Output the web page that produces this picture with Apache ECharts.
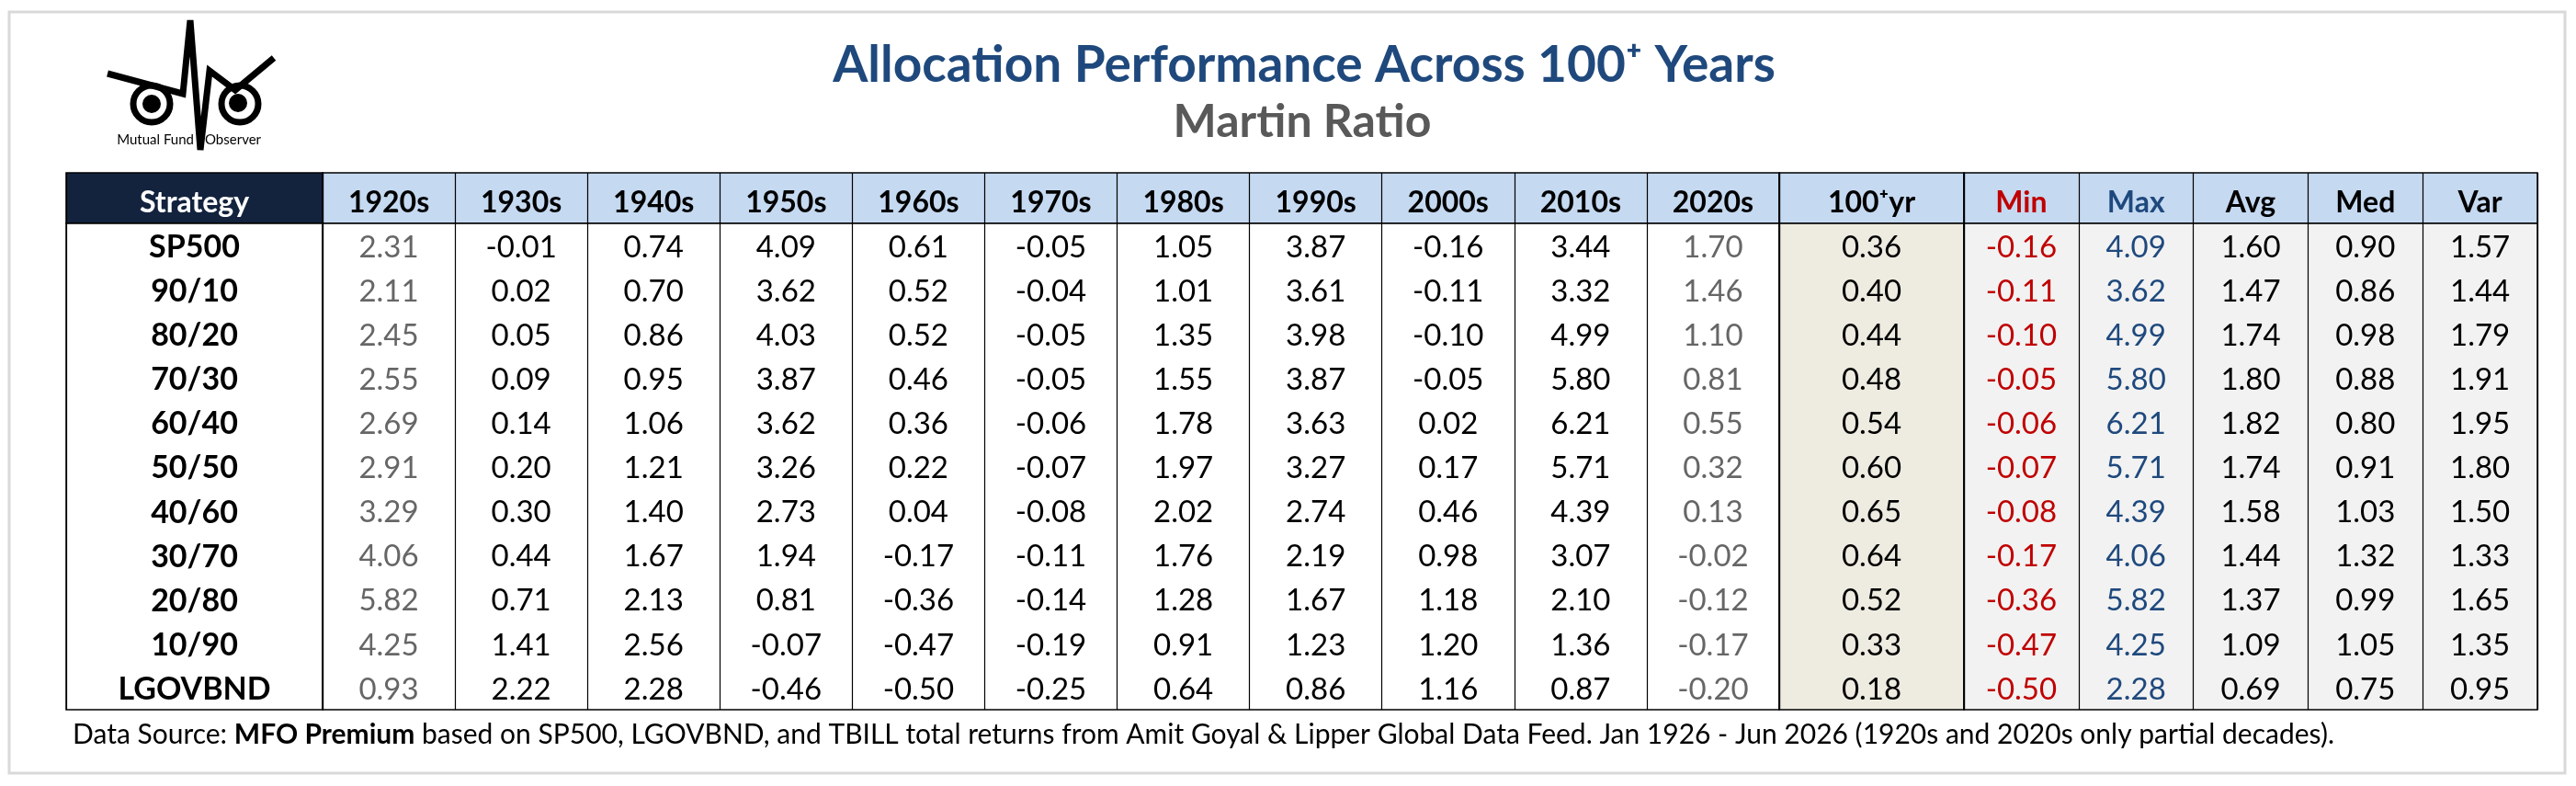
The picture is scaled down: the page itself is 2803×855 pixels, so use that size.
<!DOCTYPE html>
<html>
<head>
<meta charset="utf-8">
<script src="https://cdn.jsdelivr.net/npm/echarts@6/dist/echarts.min.js"></script>
<style>
  html, body { margin: 0; padding: 0; background: #fff; }
  #chart { width: 2803px; height: 855px; }
</style>
</head>
<body>
<div id="chart"></div>
<script>
// strategies (rows)
const strategies = ['SP500', '90/10', '80/20', '70/30', '60/40', '50/50', '40/60', '30/70', '20/80', '10/90', 'LGOVBND'];

// decade columns
const decades = ['1920s', '1930s', '1940s', '1950s', '1960s', '1970s', '1980s', '1990s', '2000s', '2010s', '2020s'];
const v1920s = [2.31, 2.11, 2.45, 2.55, 2.69, 2.91, 3.29, 4.06, 5.82, 4.25, 0.93];
const v1930s = [-0.01, 0.02, 0.05, 0.09, 0.14, 0.20, 0.30, 0.44, 0.71, 1.41, 2.22];
const v1940s = [0.74, 0.70, 0.86, 0.95, 1.06, 1.21, 1.40, 1.67, 2.13, 2.56, 2.28];
const v1950s = [4.09, 3.62, 4.03, 3.87, 3.62, 3.26, 2.73, 1.94, 0.81, -0.07, -0.46];
const v1960s = [0.61, 0.52, 0.52, 0.46, 0.36, 0.22, 0.04, -0.17, -0.36, -0.47, -0.50];
const v1970s = [-0.05, -0.04, -0.05, -0.05, -0.06, -0.07, -0.08, -0.11, -0.14, -0.19, -0.25];
const v1980s = [1.05, 1.01, 1.35, 1.55, 1.78, 1.97, 2.02, 1.76, 1.28, 0.91, 0.64];
const v1990s = [3.87, 3.61, 3.98, 3.87, 3.63, 3.27, 2.74, 2.19, 1.67, 1.23, 0.86];
const v2000s = [-0.16, -0.11, -0.10, -0.05, 0.02, 0.17, 0.46, 0.98, 1.18, 1.20, 1.16];
const v2010s = [3.44, 3.32, 4.99, 5.80, 6.21, 5.71, 4.39, 3.07, 2.10, 1.36, 0.87];
const v2020s = [1.70, 1.46, 1.10, 0.81, 0.55, 0.32, 0.13, -0.02, -0.12, -0.17, -0.20];

// whole period
const yr100 = [0.36, 0.40, 0.44, 0.48, 0.54, 0.60, 0.65, 0.64, 0.52, 0.33, 0.18];

// stats columns
const stats = ['Min', 'Max', 'Avg', 'Med', 'Var'];
const minVals = [-0.16, -0.11, -0.10, -0.05, -0.06, -0.07, -0.08, -0.17, -0.36, -0.47, -0.50];
const maxVals = [4.09, 3.62, 4.99, 5.80, 6.21, 5.71, 4.39, 4.06, 5.82, 4.25, 2.28];
const avgVals = [1.60, 1.47, 1.74, 1.80, 1.82, 1.74, 1.58, 1.44, 1.37, 1.09, 0.69];
const medVals = [0.90, 0.86, 0.98, 0.88, 0.80, 0.91, 1.03, 1.32, 0.99, 1.05, 0.75];
const varVals = [1.57, 1.44, 1.79, 1.91, 1.95, 1.80, 1.50, 1.33, 1.65, 1.35, 0.95];

const decadeCols = [v1920s, v1930s, v1940s, v1950s, v1960s, v1970s, v1980s, v1990s, v2000s, v2010s, v2020s];
const statCols = [minVals, maxVals, avgVals, medVals, varVals];

const FONT = 'Lato, "Open Sans", sans-serif';
const RED = '#c00000', BLUE = '#1f497d', PARTIAL = '#666666';
const decadeColors = decades.map((d, i) => (i === 0 || i === decades.length - 1) ? PARTIAL : '#000');
const statColors = [RED, BLUE, '#000', '#000', '#000'];

// table layout
const tblTop = 188, headH = 55, bodyTop = 243, bodyH = 529;
const colBlocks = [
  { left: 72, width: 279, head: '#13233e', body: '#ffffff' },
  { left: 351, width: 1585, head: '#c5d9f1', body: '#ffffff' },
  { left: 1936, width: 201, head: '#c5d9f1', body: '#eeece1' },
  { left: 2137, width: 624, head: '#c5d9f1', body: '#f2f2f2' }
];
const blockCols = [['Strategy'], decades, ['100⁺yr'], stats];

const grids = [], xAxes = [], yAxes = [], series = [];
colBlocks.forEach((b) => {
  grids.push({ left: b.left, top: tblTop, width: b.width, height: headH, show: true,
    backgroundColor: b.head, borderColor: '#000', borderWidth: 1.5 });
});
colBlocks.forEach((b) => {
  grids.push({ left: b.left, top: bodyTop, width: b.width, height: bodyH, show: true,
    backgroundColor: b.body, borderColor: '#000', borderWidth: 1.5 });
});
for (let g = 0; g < 8; g++) {
  xAxes.push({
    gridIndex: g, type: 'category', data: blockCols[g % 4],
    axisLine: { show: false }, axisTick: { show: false }, axisLabel: { show: false },
    splitLine: { show: true, interval: 0, lineStyle: { color: '#000', width: 1.2 } }
  });
  yAxes.push({
    gridIndex: g, type: 'category', inverse: true,
    data: g < 4 ? [''] : strategies,
    axisLine: { show: false }, axisTick: { show: false }, axisLabel: { show: false },
    splitLine: { show: false }
  });
}

function textSeries(g, data, styleFn, dy) {
  return {
    type: 'custom', xAxisIndex: g, yAxisIndex: g, data: data, silent: true,
    renderItem: function (params, api) {
      const p = api.coord([api.value(0), api.value(1)]);
      const s = styleFn(params.dataIndex, api);
      return {
        type: 'text', x: p[0], y: p[1] + (dy || 0),
        style: Object.assign({ align: 'center', verticalAlign: 'middle', fontFamily: FONT }, s)
      };
    }
  };
}

// header cells
const headColors = [['#ffffff'], decades.map(() => '#000'), ['#000'], [RED, BLUE, '#000', '#000', '#000']];
blockCols.forEach((cols, g) => {
  series.push(textSeries(g, cols.map((c, i) => [i, 0]), function (idx) {
    return { text: cols[idx], fill: headColors[g][idx], fontSize: 32, fontWeight: 'bold' };
  }, 5));
});

// strategy names
series.push(textSeries(4, strategies.map((s, r) => [0, r]), function (idx) {
  return { text: strategies[idx], fill: '#000', fontSize: 34, fontWeight: 'bold' };
}, 2));

function valueData(cols) {
  const out = [];
  cols.forEach((arr, c) => arr.forEach((v, r) => out.push([c, r, v])));
  return out;
}
function valueStyle(colors) {
  return function (idx, api) {
    return { text: api.value(2).toFixed(2), fill: colors[api.value(0)], fontSize: 33 };
  };
}
series.push(textSeries(5, valueData(decadeCols), valueStyle(decadeColors), 2));
series.push(textSeries(6, valueData([yr100]), valueStyle(['#000']), 2));
series.push(textSeries(7, valueData(statCols), valueStyle(statColors), 2));

// logo + frame + titles
const logo = [
  { type: 'polyline', shape: { points: [[117, 80], [199, 102], [207, 22], [218, 163], [228, 77], [256, 98], [298, 63]] },
    style: { stroke: '#000', lineWidth: 7, fill: null, lineJoin: 'miter' } },
  { type: 'circle', shape: { cx: 165, cy: 113, r: 20 }, style: { stroke: '#000', lineWidth: 7, fill: null } },
  { type: 'circle', shape: { cx: 261, cy: 113, r: 20 }, style: { stroke: '#000', lineWidth: 7, fill: null } },
  { type: 'circle', shape: { cx: 165, cy: 113, r: 10 }, style: { fill: '#000' } },
  { type: 'circle', shape: { cx: 259, cy: 112, r: 10 }, style: { fill: '#000' } },
  { type: 'text', x: 211, y: 152, style: { text: 'Mutual Fund', fill: '#000', font: '15px ' + FONT, align: 'right', verticalAlign: 'middle' } },
  { type: 'text', x: 223, y: 152, style: { text: 'Observer', fill: '#000', font: '15px ' + FONT, align: 'left', verticalAlign: 'middle' } }
];

const option = {
  animation: false,
  backgroundColor: '#ffffff',
  grid: grids, xAxis: xAxes, yAxis: yAxes, series: series,
  graphic: [
    { type: 'rect', shape: { x: 10, y: 13, width: 2781, height: 828 }, style: { stroke: '#d9d9d9', lineWidth: 3, fill: null }, z: -1 },
    ...logo,
    { type: 'text', x: 1419, y: 71, style: { text: 'Allocation Performance Across 100⁺ Years', fill: '#1f497d',
      font: 'bold 55px ' + FONT, align: 'center', verticalAlign: 'middle' } },
    { type: 'text', x: 1417, y: 133, style: { text: 'Martin Ratio', fill: '#595959',
      font: 'bold 50px ' + FONT, align: 'center', verticalAlign: 'middle' } },
    { type: 'text', x: 79, y: 799, style: {
      text: '{n|Data Source: }{b|MFO Premium}{n| based on SP500, LGOVBND, and TBILL total returns from Amit Goyal & Lipper Global Data Feed. Jan 1926 - Jun 2026 (1920s and 2020s only partial decades).}',
      align: 'left', verticalAlign: 'middle',
      rich: {
        n: { fontFamily: FONT, fontSize: 30, fill: '#000', color: '#000' },
        b: { fontFamily: FONT, fontSize: 30, fontWeight: 'bold', fill: '#000', color: '#000' }
      } } }
  ]
};

const chart = echarts.init(document.getElementById('chart'));
chart.setOption(option);
</script>
</body>
</html>
